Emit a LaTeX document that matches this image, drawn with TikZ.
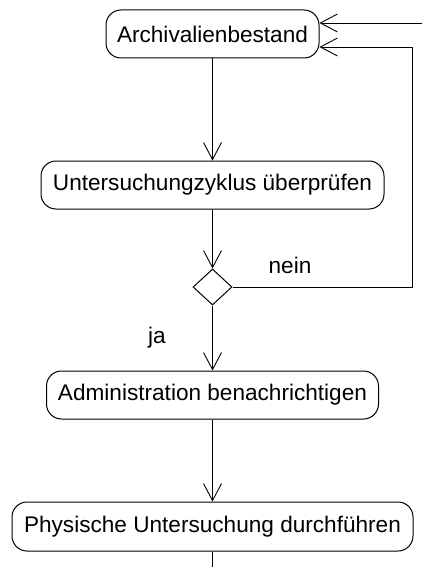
\documentclass[tikz,border=0pt]{standalone}
\usepackage{fontspec}
\setmainfont{Liberation Sans}
\usetikzlibrary{arrows.meta,shapes.geometric,calc}
\begin{document}
\begin{tikzpicture}[x=1pt,y=1pt,
  font=\fontsize{22.6}{27}\selectfont,
  action/.style={draw, line width=1pt, rounded corners=15pt, inner sep=0pt,
    minimum height=48pt, align=center},
  decision/.style={draw, line width=1pt, diamond, inner sep=0pt,
    minimum width=39pt, minimum height=36pt},
  flow/.style={draw, line width=0.9pt, -{Straight Barb[length=17pt,width=18pt,line width=0.9pt]}},
  plain/.style={draw, line width=0.9pt}]
  \useasboundingbox (0,0) rectangle (422,-567);

  % activity nodes
  \node[action, minimum width=213pt] (A) at (212.5,-34) {Archivalienbestand};
  \node[action, minimum width=343pt] (U) at (212.5,-185) {Untersuchungzyklus überprüfen};
  \node[decision] (D) at (212.5,-287) {};
  \node[action, minimum width=332pt] (B) at (212.5,-395) {Administration benachrichtigen};
  \node[action, minimum width=401pt, minimum height=49pt] (P) at (212.5,-526.5) {Physische Untersuchung durchführen};

  % guard labels
  \node[anchor=base, inner sep=0pt] (nein) at (290,-273) {nein};
  \node[anchor=base, inner sep=0pt] (ja) at (157,-343) {ja};

  % helper points for the loop and the open ends
  \coordinate (inTop) at (422,-23);
  \coordinate (inTopEnd) at ($(A.east)+(0,11)$);
  \coordinate (loopCorner1) at (412,-287);
  \coordinate (loopCorner2) at (412,-47);
  \coordinate (loopEnd) at ($(A.east)+(0,-13)$);
  \coordinate (outBottom) at (212.5,-567);

  % main flow
  \path[flow] (A) -- (U);
  \path[flow] (U) -- (D);
  \path[flow] (D) -- (B);
  \path[flow] (B) -- (P);
  \path[plain] (P) -- (outBottom);

  % return loop and incoming edge
  \path[flow] (D.east) -- (loopCorner1) -- (loopCorner2) -- (loopEnd);
  \path[flow] (inTop) -- (inTopEnd);
\end{tikzpicture}
\end{document}
